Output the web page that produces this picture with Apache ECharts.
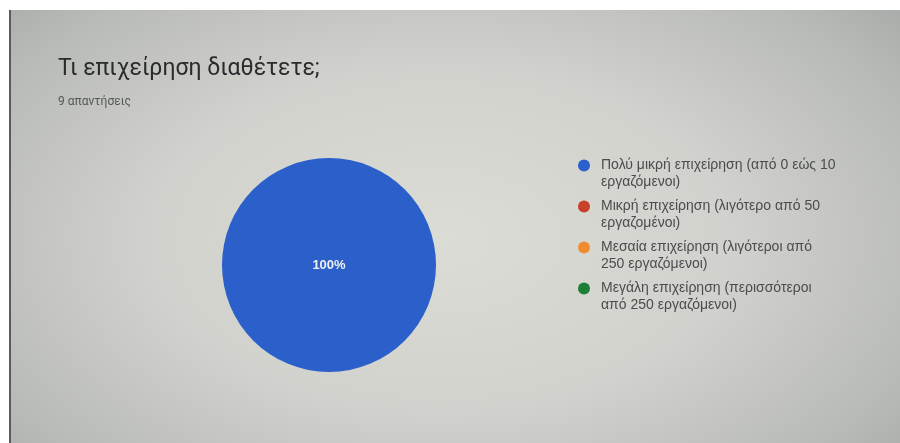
<!DOCTYPE html>
<html>
<head>
<meta charset="utf-8">
<script src="https://cdn.jsdelivr.net/npm/echarts@6/dist/echarts.min.js"></script>
<style>
  html, body { margin: 0; padding: 0; background: #ffffff; }
  #frame {
    position: absolute; left: 9px; top: 10px; width: 891px; height: 433px;
    background: radial-gradient(ellipse 640px 380px at 430px 230px, #dcdcd6 0%, #d1d2cd 45%, #b8bab7 80%, #a4a6a5 100%);
    border-left: 2px solid #5a5c5c;
    box-sizing: border-box;
  }
  #chart { position: absolute; left: 0; top: 0; width: 900px; height: 443px; }
</style>
</head>
<body>
<div id="frame"></div>
<div id="chart"></div>
<script>
// Survey question: what kind of business do you run?
const categories = [
  'Πολύ μικρή επιχείρηση (από 0 εώς 10 εργαζόμενοι)',
  'Μικρή επιχείρηση (λιγότερο από 50 εργαζομένοι)',
  'Μεσαία επιχείρηση (λιγότεροι από 250 εργαζόμενοι)',
  'Μεγάλη επιχείρηση (περισσότεροι από 250 εργαζόμενοι)'
];
const responses = [9, 0, 0, 0];
const colors = ['#2b5fc9', '#c8402a', '#f08c2e', '#1e7d36'];

const LEGEND_FONT = '14px "Liberation Sans"';
const LEGEND_MAX_WIDTH = 236;

// Greedy word wrap of legend labels by measured text width
const measureCtx = document.createElement('canvas').getContext('2d');
measureCtx.font = LEGEND_FONT;
function wrapLabel(text) {
  const words = text.split(' ');
  const lines = [];
  let line = '';
  words.forEach(w => {
    const trial = line ? line + ' ' + w : w;
    if (line && measureCtx.measureText(trial).width > LEGEND_MAX_WIDTH) {
      lines.push(line);
      line = w;
    } else {
      line = trial;
    }
  });
  if (line) lines.push(line);
  return lines.join('\n');
}

const chart = echarts.init(document.getElementById('chart'));

// Legend marker sits on the first text line of a two-line label
const markerPath = 'path://M0 8.5A6 6 0 1 1 12 8.5A6 6 0 1 1 0 8.5Z M6 0 M6 34';

chart.setOption({
  animation: false,
  color: colors,
  title: {
    text: 'Τι επιχείρηση διαθέτετε;',
    subtext: '9 απαντήσεις',
    left: 53,
    top: 53,
    itemGap: 15,
    textStyle: { fontFamily: 'Roboto', fontSize: 23, fontWeight: 'normal', color: '#2a2b2c' },
    subtextStyle: { fontFamily: 'Roboto', fontSize: 12, color: '#55585a' }
  },
  legend: {
    orient: 'vertical',
    left: 578,
    top: 157,
    padding: 0,
    icon: markerPath,
    itemWidth: 12,
    itemHeight: 34,
    itemGap: 7,
    data: categories,
    formatter: wrapLabel,
    textStyle: {
      fontFamily: 'Liberation Sans',
      fontSize: 14,
      color: '#4a4c4e',
      lineHeight: 17,
      padding: [0, 0, 0, 6]
    }
  },
  series: [{
    type: 'pie',
    center: [329, 265],
    radius: 107,
    startAngle: 90,
    label: {
      position: 'center',
      color: '#eef0f4',
      fontFamily: 'Liberation Sans',
      fontSize: 13,
      fontWeight: 'bold',
      formatter: p => (p.value > 0 ? Math.round(p.percent) + '%' : '')
    },
    labelLine: { show: false },
    itemStyle: { borderWidth: 0 },
    emphasis: { disabled: true },
    data: categories.map((name, i) => ({ name: name, value: responses[i] }))
  }]
});
</script>
</body>
</html>
